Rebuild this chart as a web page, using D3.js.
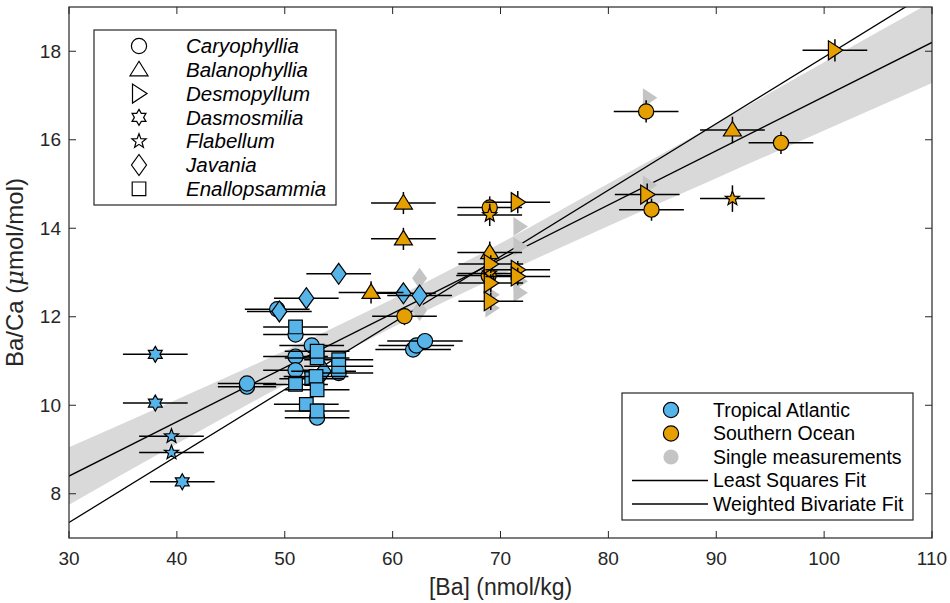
<!DOCTYPE html>
<html>
<head>
<meta charset="utf-8">
<script src="https://cdn.jsdelivr.net/npm/d3@7"></script>
<style>
  body { margin: 0; background: #fff; }
  svg { display: block; font-family: "Liberation Sans", Arial, sans-serif; }
</style>
</head>
<body>
<div id="chart"></div>
<script>
// axis setup
const xTicks = [30, 40, 50, 60, 70, 80, 90, 100, 110];
const yTicks = [8, 10, 12, 14, 16, 18];

// colours per region
const TA_COLOR = "#56B4E9";
const SO_COLOR = "#E69F00";
const SINGLE_COLOR = "#c4c4c4";

// species legend order
const genera = ["Caryophyllia", "Balanophyllia", "Desmopyllum", "Dasmosmilia", "Flabellum", "Javania", "Enallopsammia"];

// [genus, Ba, Ba/Ca, Ba err, Ba/Ca err]
const tropicalAtlantic = [
    ["Dasmosmilia", 38.0, 11.15, 3.0, 0.12],
    ["Dasmosmilia", 38.0, 10.05, 3.0, 0.12],
    ["Flabellum", 39.5, 9.30, 3.0, 0.1],
    ["Flabellum", 39.5, 8.93, 3.0, 0.1],
    ["Dasmosmilia", 40.5, 8.27, 3.0, 0.1],
    ["Caryophyllia", 46.5, 10.42, 2.7, 0.1],
    ["Caryophyllia", 46.5, 10.49, 2.7, 0.1],
    ["Javania", 52.0, 12.42, 3.0, 0.1],
    ["Javania", 55.0, 12.97, 3.0, 0.1],
    ["Caryophyllia", 49.3, 12.17, 3.0, 0.1],
    ["Javania", 49.5, 12.12, 3.0, 0.1],
    ["Caryophyllia", 51.0, 11.60, 3.0, 0.1],
    ["Enallopsammia", 51.0, 11.77, 3.0, 0.1],
    ["Caryophyllia", 52.5, 11.35, 3.0, 0.1],
    ["Caryophyllia", 51.0, 11.10, 3.0, 0.1],
    ["Caryophyllia", 51.0, 10.79, 3.0, 0.1],
    ["Javania", 53.6, 10.77, 3.0, 0.1],
    ["Caryophyllia", 55.0, 10.73, 3.2, 0.1],
    ["Enallopsammia", 55.0, 10.88, 3.2, 0.1],
    ["Enallopsammia", 55.0, 11.03, 3.2, 0.1],
    ["Enallopsammia", 53.0, 11.07, 3.0, 0.1],
    ["Enallopsammia", 53.0, 11.22, 3.0, 0.1],
    ["Enallopsammia", 52.5, 10.60, 3.0, 0.1],
    ["Enallopsammia", 52.9, 10.65, 3.0, 0.1],
    ["Enallopsammia", 51.0, 10.47, 3.0, 0.1],
    ["Enallopsammia", 53.0, 10.35, 3.0, 0.1],
    ["Enallopsammia", 52.0, 10.02, 3.0, 0.1],
    ["Caryophyllia", 53.0, 9.72, 3.0, 0.1],
    ["Enallopsammia", 53.0, 9.87, 3.0, 0.1],
    ["Caryophyllia", 61.9, 11.26, 3.5, 0.1],
    ["Caryophyllia", 62.2, 11.35, 3.5, 0.1],
    ["Caryophyllia", 63.0, 11.45, 3.5, 0.1],
    ["Javania", 61.0, 12.53, 3.0, 0.1],
    ["Javania", 62.5, 12.48, 3.0, 0.1]
];

const southernOcean = [
    ["Caryophyllia", 61.1, 12.01, 3.0, 0.2],
    ["Balanophyllia", 61.0, 14.57, 3.0, 0.25],
    ["Balanophyllia", 61.0, 13.76, 3.0, 0.25],
    ["Balanophyllia", 58.0, 12.55, 3.0, 0.25],
    ["Caryophyllia", 69.0, 14.47, 3.0, 0.25],
    ["Flabellum", 69.0, 14.30, 3.0, 0.25],
    ["Desmopyllum", 71.6, 14.59, 3.0, 0.25],
    ["Caryophyllia", 68.9, 12.93, 3.0, 0.2],
    ["Flabellum", 69.0, 12.98, 3.0, 0.2],
    ["Balanophyllia", 69.0, 13.45, 3.0, 0.25],
    ["Desmopyllum", 69.1, 13.19, 3.0, 0.2],
    ["Desmopyllum", 69.1, 12.76, 3.0, 0.2],
    ["Desmopyllum", 69.1, 12.35, 3.0, 0.2],
    ["Desmopyllum", 71.6, 13.06, 3.0, 0.2],
    ["Desmopyllum", 71.6, 12.91, 3.0, 0.2],
    ["Caryophyllia", 83.5, 16.64, 3.0, 0.25],
    ["Desmopyllum", 83.6, 14.76, 3.0, 0.25],
    ["Caryophyllia", 84.0, 14.42, 3.0, 0.25],
    ["Balanophyllia", 91.5, 16.22, 3.0, 0.3],
    ["Flabellum", 91.5, 14.67, 3.0, 0.3],
    ["Caryophyllia", 96.0, 15.93, 3.0, 0.25],
    ["Desmopyllum", 101.0, 18.02, 3.0, 0.25]
];

// single measurements: [genus, Ba, Ba/Ca]
const singleMeasurements = [
    ["Javania", 62.5, 12.87],
    ["Javania", 62.5, 12.14],
    ["Desmopyllum", 83.8, 16.95],
    ["Desmopyllum", 83.8, 14.98],
    ["Desmopyllum", 71.8, 14.04],
    ["Desmopyllum", 71.8, 13.59],
    ["Desmopyllum", 71.8, 12.80],
    ["Desmopyllum", 71.8, 12.54],
    ["Desmopyllum", 69.2, 12.50],
    ["Desmopyllum", 69.2, 12.20]
];

// fit lines, end points read at the axis limits
const lsqLine = [[30, 8.40], [110, 18.20]];
const wbfLine = [[30, 7.35], [110, 19.37]];

// confidence band of the least squares fit
const bandX  = [30, 40, 50, 60, 70, 80, 90, 100, 110];
const bandLo = [7.75, 9.13, 10.47, 11.76, 12.94, 14.05, 15.13, 16.21, 17.28];
const bandHi = [9.05, 10.13, 11.23, 12.40, 13.66, 15.01, 16.37, 17.75, 19.12];

const W = 950, H = 603;
const margin = { top: 7, right: 18, bottom: 65, left: 69 };
const width = W - margin.left - margin.right;
const height = H - margin.top - margin.bottom;

const svg = d3.select("#chart").append("svg").attr("width", W).attr("height", H);
const g = svg.append("g").attr("transform", `translate(${margin.left},${margin.top})`);

const x = d3.scaleLinear().domain([30, 110]).range([0, width]);
const y = d3.scaleLinear().domain([7, 19]).range([height, 0]);

svg.append("defs").append("clipPath").attr("id", "plot-clip")
    .append("rect").attr("width", width).attr("height", height);

// marker shapes (MATLAB style)
function starPath(points, R, r) {
    const pts = [];
    for (let i = 0; i < points * 2; i++) {
        const a = -Math.PI / 2 + i * Math.PI / points;
        const rad = i % 2 === 0 ? R : r;
        pts.push([rad * Math.cos(a), rad * Math.sin(a)]);
    }
    return "M" + pts.map(p => p.join(",")).join("L") + "Z";
}
function markerPath(genus) {
    switch (genus) {
        case "Caryophyllia": return d3.symbol(d3.symbolCircle, Math.PI * 7.6 * 7.6)();
        case "Balanophyllia": return "M0,-8.5L9,6L-9,6Z";
        case "Desmopyllum": return "M8,0L-6.5,-9.5L-6.5,9.5Z";
        case "Dasmosmilia": return starPath(6, 8, 8 / Math.sqrt(3));
        case "Flabellum": return starPath(5, 7.5, 7.5 * 0.42);
        case "Javania": return "M0,-10.5L7.5,0L0,10.5L-7.5,0Z";
        case "Enallopsammia": return "M-6.8,-6.8L6.8,-6.8L6.8,6.8L-6.8,6.8Z";
    }
}

const plot = g.append("g").attr("clip-path", "url(#plot-clip)");

// confidence band
const bandArea = d3.area()
    .x((d, i) => x(bandX[i]))
    .y0((d, i) => y(bandLo[i]))
    .y1((d, i) => y(bandHi[i]))
    .curve(d3.curveMonotoneX);
plot.append("path").datum(bandX).attr("d", bandArea).attr("fill", "#d9d9d9");

// fit lines
const line = d3.line().x(d => x(d[0])).y(d => y(d[1]));
[lsqLine, wbfLine].forEach(l => {
    plot.append("path").datum(l).attr("d", line)
        .attr("fill", "none").attr("stroke", "#000").attr("stroke-width", 1.3);
});

// single measurements (grey, no outline)
plot.selectAll(".single").data(singleMeasurements).enter().append("path")
    .attr("class", "single")
    .attr("transform", d => `translate(${x(d[1])},${y(d[2])})`)
    .attr("d", d => markerPath(d[0]))
    .attr("fill", SINGLE_COLOR);

// error bars + markers
function drawSeries(data, color) {
    data.forEach(d => {
        const [genus, ba, baca, baErr, bacaErr] = d;
        const grp = plot.append("g");
        grp.append("line")
            .attr("x1", x(ba - baErr)).attr("x2", x(ba + baErr))
            .attr("y1", y(baca)).attr("y2", y(baca))
            .attr("stroke", "#000").attr("stroke-width", 1.5);
        grp.append("line")
            .attr("x1", x(ba)).attr("x2", x(ba))
            .attr("y1", y(baca - bacaErr)).attr("y2", y(baca + bacaErr))
            .attr("stroke", "#000").attr("stroke-width", 1.5);
        grp.append("path")
            .attr("transform", `translate(${x(ba)},${y(baca)})`)
            .attr("d", markerPath(genus))
            .attr("fill", color).attr("stroke", "#000").attr("stroke-width", 1.2)
            .attr("stroke-linejoin", "miter");
    });
}
drawSeries(tropicalAtlantic, TA_COLOR);
drawSeries(southernOcean, SO_COLOR);

// axes box with inward ticks on all four sides
const tickLen = 7;
const axisColor = "#262626";
g.append("rect").attr("width", width).attr("height", height)
    .attr("fill", "none").attr("stroke", axisColor).attr("stroke-width", 1.2);

const xt = g.append("g");
xTicks.forEach(t => {
    xt.append("line").attr("x1", x(t)).attr("x2", x(t)).attr("y1", height).attr("y2", height - tickLen).attr("stroke", axisColor);
    xt.append("line").attr("x1", x(t)).attr("x2", x(t)).attr("y1", 0).attr("y2", tickLen).attr("stroke", axisColor);
    xt.append("text").attr("x", x(t)).attr("y", height + 27)
        .attr("text-anchor", "middle").attr("font-size", 19).attr("fill", "#262626").text(t);
});
const yt = g.append("g");
yTicks.forEach(t => {
    yt.append("line").attr("x1", 0).attr("x2", tickLen).attr("y1", y(t)).attr("y2", y(t)).attr("stroke", axisColor);
    yt.append("line").attr("x1", width).attr("x2", width - tickLen).attr("y1", y(t)).attr("y2", y(t)).attr("stroke", axisColor);
    yt.append("text").attr("x", -8).attr("y", y(t)).attr("dy", "0.35em")
        .attr("text-anchor", "end").attr("font-size", 19).attr("fill", "#262626").text(t);
});

// axis labels
g.append("text").attr("x", width / 2).attr("y", height + 57)
    .attr("text-anchor", "middle").attr("font-size", 23).attr("fill", "#262626")
    .text("[Ba] (nmol/kg)");
const yl = g.append("text")
    .attr("transform", `translate(${-46},${height / 2}) rotate(-90)`)
    .attr("text-anchor", "middle").attr("font-size", 24).attr("fill", "#262626");
yl.append("tspan").text("Ba/Ca (");
yl.append("tspan").attr("font-style", "italic").attr("font-family", "'DejaVu Serif', serif").text("μ");
yl.append("tspan").text("mol/mol)");

// species legend (open symbols)
const leg1 = svg.append("g").attr("transform", "translate(94,30)");
leg1.append("rect").attr("width", 242).attr("height", 175)
    .attr("fill", "#fff").attr("stroke", axisColor).attr("stroke-width", 1.2);
genera.forEach((gen, i) => {
    const yy = 16 + i * 23.8;
    leg1.append("path").attr("transform", `translate(45,${yy})`)
        .attr("d", markerPath(gen)).attr("fill", "#fff").attr("stroke", "#000").attr("stroke-width", 1.2);
    leg1.append("text").attr("x", 92).attr("y", yy).attr("dy", "0.35em")
        .attr("font-size", 20.5).attr("font-style", "italic").attr("fill", "#000").text(gen);
});

// region / fit legend
const leg2 = svg.append("g").attr("transform", "translate(622,393)");
leg2.append("rect").attr("width", 291).attr("height", 127)
    .attr("fill", "#fff").attr("stroke", axisColor).attr("stroke-width", 1.2);
const leg2Items = [
    { label: "Tropical Atlantic", type: "marker", fill: TA_COLOR, stroke: "#000" },
    { label: "Southern Ocean", type: "marker", fill: SO_COLOR, stroke: "#000" },
    { label: "Single measurements", type: "marker", fill: SINGLE_COLOR, stroke: "none" },
    { label: "Least Squares Fit", type: "line" },
    { label: "Weighted Bivariate Fit", type: "line" }
];
leg2Items.forEach((it, i) => {
    const yy = 17 + i * 23.5;
    if (it.type === "marker") {
        leg2.append("path").attr("transform", `translate(49,${yy})`)
            .attr("d", markerPath("Caryophyllia"))
            .attr("fill", it.fill).attr("stroke", it.stroke).attr("stroke-width", 1.2);
    } else {
        leg2.append("line").attr("x1", 10).attr("x2", 86).attr("y1", yy).attr("y2", yy)
            .attr("stroke", "#000").attr("stroke-width", 1.3);
    }
    leg2.append("text").attr("x", 91).attr("y", yy).attr("dy", "0.35em")
        .attr("font-size", 19.5).attr("fill", "#000").text(it.label);
});
</script>
</body>
</html>
